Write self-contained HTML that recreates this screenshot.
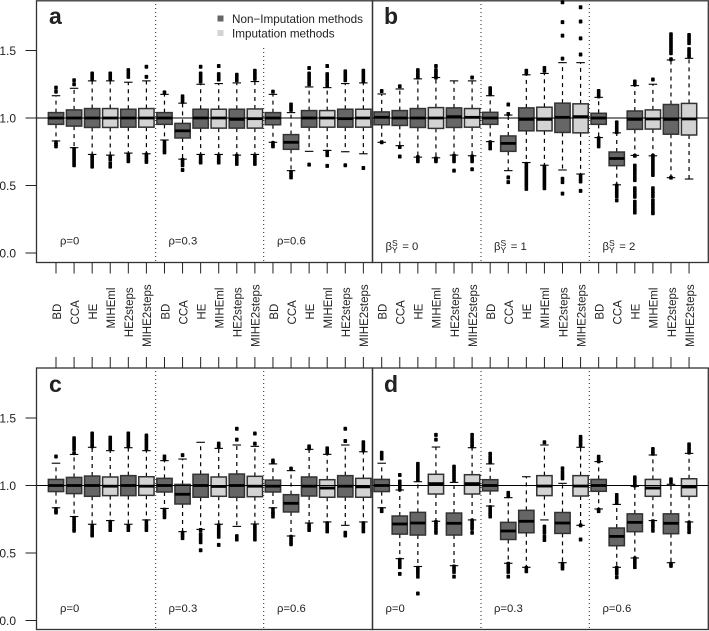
<!DOCTYPE html>
<html>
<head>
<meta charset="utf-8">
<title>Boxplots of imputation methods</title>
<style>
html,body{margin:0;padding:0;background:#fff;width:709px;height:631px;overflow:hidden}
svg{display:block;position:absolute;left:0;top:0}
text{font-family:"Liberation Sans",Arial,sans-serif;fill:#222}
</style>
</head>
<body>
<svg id="chart" width="709" height="631" viewBox="0 0 709 631" xmlns="http://www.w3.org/2000/svg">
  <g id="marks"></g>

  <g>
    <rect x="217.5" y="15.5" width="6" height="6" fill="#666"/>
    <text x="232" y="23" font-size="11.7" fill="#333">Non−Imputation methods</text>
    <rect x="217.5" y="30" width="6" height="6" fill="#d3d3d3"/>
    <text x="232" y="37.5" font-size="11.7" fill="#333">Imputation methods</text>
  </g>

  <text x="49" y="24" font-size="23" font-weight="bold" fill="#000">a</text>
  <text x="384" y="24" font-size="23" font-weight="bold" fill="#000">b</text>
  <text x="49" y="392" font-size="23" font-weight="bold" fill="#000">c</text>
  <text x="384" y="392" font-size="23" font-weight="bold" fill="#000">d</text>

  <g font-size="11.3" fill="#333">
    <text x="60" y="244.5">ρ=0</text>
    <text x="168.5" y="244.5">ρ=0.3</text>
    <text x="277" y="244.5">ρ=0.6</text>
    <text x="60" y="612">ρ=0</text>
    <text x="168.5" y="612">ρ=0.3</text>
    <text x="277" y="612">ρ=0.6</text>
    <text x="385.5" y="612">ρ=0</text>
    <text x="494" y="612">ρ=0.3</text>
    <text x="602.5" y="612">ρ=0.6</text>
    <text x="385.5" y="250">β<tspan font-size="8.5" dy="-4">S</tspan><tspan font-size="8.5" dx="-5.7" dy="7">Y</tspan><tspan dy="-3" dx="1.5"> = 0</tspan></text>
    <text x="494" y="250">β<tspan font-size="8.5" dy="-4">S</tspan><tspan font-size="8.5" dx="-5.7" dy="7">Y</tspan><tspan dy="-3" dx="1.5"> = 1</tspan></text>
    <text x="602.5" y="250">β<tspan font-size="8.5" dy="-4">S</tspan><tspan font-size="8.5" dx="-5.7" dy="7">Y</tspan><tspan dy="-3" dx="1.5"> = 2</tspan></text>
  </g>
</svg>

<script>
// ---------- shared categories and tick labels ----------
const methods = ["BD","CCA","HE","MIHEml","HE2steps","MIHE2steps"];
const yTickValues = [0, 0.5, 1, 1.5];
const yTickLabels = ["0.0","0.5","1.0","1.5"];

// ---------- panel a ----------
const aQ1  = [.953,.94,.93,.93,.932,.932, .953,.852,.925,.925,.925,.925, .95,.768,.932,.932,.932,.932];
const aMed = [1,1,1,1,1,1, 1,.905,1,1,.99,.995, 1,.82,1,1,.995,1];
const aQ3  = [1.04,1.06,1.07,1.07,1.065,1.07, 1.04,.96,1.065,1.065,1.065,1.067, 1.04,.877,1.055,1.055,1.065,1.065];
const aWLo = [.83,.78,.73,.725,.74,.735, .837,.695,.73,.73,.725,.73, .82,.61,.753,.76,.75,.735];
const aWHi = [1.165,1.22,1.275,1.275,1.265,1.275, 1.175,1.11,1.25,1.255,1.26,1.27, 1.175,1.04,1.23,1.225,1.255,1.26];
const aOutLo = [[.82,.805,.79],[.77,.75,.73,.71,.69,.67,.65],[.72,.7,.68,.66,.64],[.715,.695,.665,.64],[.73,.71,.69,.68],[.73,.71,.69,.675],
  [.825,.8,.78,.76,.745],[.69,.67,.65,.615],[.72,.7,.68,.67],[.72,.7,.68,.67],[.72,.7,.68,.66],[.72,.7,.68,.66],
  [.815,.8,.79],[.6,.58,.56],[.655],[.75,.725,.645],[.65],[.63]];
const aOutHi = [[1.225,1.195],[1.28,1.25],[1.33,1.31,1.29],[1.33,1.31,1.29],[1.355,1.33,1.305],[1.38,1.305],
  [1.19],[1.16,1.14,1.12],[1.38,1.33,1.31,1.29,1.27],[1.385,1.325,1.305,1.285],[1.32,1.3,1.28],[1.35,1.33,1.31,1.29],
  [1.195],[1.1,1.08,1.06],[1.37,1.33,1.31,1.29,1.27,1.25],[1.385,1.325,1.305,1.285,1.26,1.24],[1.345,1.32,1.3,1.28],[1.35,1.33,1.31,1.29,1.27]];

// ---------- panel b ----------
const bQ1  = [.95,.945,.93,.923,.93,.932, .953,.753,.905,.905,.893,.89, .953,.647,.916,.918,.88,.874];
const bMed = [1.005,1,1,1,1.01,1.005, 1,.812,.99,.99,1.005,1.01, 1,.7,.99,.993,.99,.993];
const bQ3  = [1.045,1.055,1.07,1.077,1.075,1.07, 1.042,.867,1.075,1.08,1.11,1.105, 1.035,.748,1.052,1.06,1.1,1.108];
const bWLo = [.82,.795,.71,.705,.725,.72, .825,.61,.67,.65,.615,.585, .855,.505,.723,.72,.558,.548];
const bWHi = [1.178,1.215,1.29,1.3,1.275,1.275, 1.165,1.022,1.32,1.33,1.41,1.41, 1.153,.89,1.24,1.25,1.43,1.442];
const bOutLo = [[.82],[.785,.715],[.71,.69,.68],[.7,.69,.68],[.72,.7,.68,.61],[.715,.7,.68,.62],
  [.82,.8,.775],[.56,.525],[.66,.64,.62,.6,.58,.56,.54,.52,.5,.475],[.64,.62,.6,.58,.56,.54,.52,.5,.48],[.55,.525,.44],[.575,.55,.53,.46],
  [.85,.83,.81,.79],[.5,.48,.46,.44,.42,.39],[.72,.647,.625,.605,.585,.56,.54,.48,.46,.435,.417,.38,.36,.34,.32,.3],[.72,.7,.68,.66,.64,.62,.6,.578,.48,.46,.44,.42,.39,.368,.35,.33,.31,.294],[.558],[]];
const bOutHi = [[1.2],[1.235],[1.355,1.335,1.315,1.3],[1.385,1.355,1.335,1.315,1.3],[],[1.3],
  [1.22,1.2,1.18],[1.1,1.03],[1.35,1.33],[1.37,1.35],[1.44,1.61,1.71,1.857],[1.47,1.59,1.715,1.82],
  [1.2,1.18,1.16],[.968,.95,.93,.91,.895],[1.27,1.25],[1.285],[1.62,1.6,1.58,1.56,1.54,1.52,1.5,1.48,1.435],[1.615,1.595,1.575,1.555,1.51,1.49,1.47,1.455]];

// ---------- panel c ----------
const cQ1  = [.955,.94,.92,.925,.925,.927, .952,.863,.913,.92,.913,.917, .952,.804,.922,.913,.915,.913];
const cMed = [1,1,1,.995,1,.995, 1,.935,1,.993,1,.995, .995,.868,.995,.981,.995,.99];
const cQ3  = [1.045,1.06,1.07,1.063,1.073,1.065, 1.053,1.008,1.083,1.063,1.085,1.068, 1.04,.932,1.063,1.043,1.073,1.053];
const cWLo = [.835,.77,.713,.74,.713,.745, .83,.658,.675,.713,.697,.715, .835,.626,.722,.73,.705,.73];
const cWHi = [1.165,1.23,1.283,1.258,1.28,1.258, 1.184,1.196,1.32,1.275,1.3,1.29, 1.16,1.11,1.268,1.231,1.3,1.25];
const cOutLo = [[.825,.81,.8],[.76,.74,.72,.7,.68,.665],[.7,.68,.66,.64,.63],[.73,.71,.69,.67],[.7,.69,.67],[.735,.71,.69,.67],
  [.82,.8,.785,.765],[.65,.63,.61],[.67,.64,.62,.6,.58,.52],[.705,.68,.66,.64,.62,.56],[.625,.6],[.7,.68,.66,.64,.62,.6],
  [.825,.8,.79,.77],[.62,.6,.58,.565],[.71,.69,.67],[.72,.7,.68,.66],[.65,.63],[.72,.7,.68,.66]];
const cOutHi = [[1.215],[1.35,1.33,1.31,1.29,1.27,1.24],[1.385,1.365,1.345,1.325,1.305,1.29],[1.355,1.335,1.315,1.295,1.275],[1.385,1.365,1.345,1.325,1.305,1.29],[1.37,1.35,1.33,1.31,1.29,1.27],
  [1.215,1.195],[1.225],[],[1.31,1.29],[1.42,1.34],[1.385,1.31],
  [1.185,1.17],[1.125],[1.29,1.275],[1.275,1.26,1.24],[1.42,1.33],[1.32,1.3,1.28,1.26]];

// ---------- panel d ----------
const dQ1  = [.955,.64,.633,.937,.633,.937, .96,.6,.65,.925,.645,.922, .957,.554,.658,.92,.643,.92];
const dMed = [1,.715,.722,1.014,.72,1.014, 1,.663,.735,.996,.722,.996, 1,.623,.727,.981,.72,.989];
const dQ3  = [1.045,.774,.801,1.083,.796,1.08, 1.043,.727,.816,1.073,.8,1.073, 1.045,.685,.79,1.045,.79,1.05];
const dWLo = [.835,.458,.4,.735,.406,.745, .848,.424,.394,.745,.428,.705, .826,.394,.463,.74,.428,.73];
const dWHi = [1.165,.967,1.028,1.285,1.023,1.28, 1.16,.91,1.065,1.3,1.016,1.283, 1.177,.86,.994,1.226,1.009,1.238];
const dOutLo = [[.825,.81],[.45,.43,.41,.395,.345],[.39,.37,.35,.325,.2],[.73,.71,.69,.67,.65],[.4,.38,.36,.325],[.74,.72,.7,.68,.65],
  [.84,.82,.8,.785,.77],[.42,.4,.38,.36,.325],[.39,.365],[.695,.67,.65,.62,.596],[.42,.4,.385],[.705,.6],
  [.82,.81],[.39,.37,.35,.32],[.46,.44,.42,.395],[.735,.71,.69,.665],[.42,.405],[.725,.7,.68,.655]];
const dOutHi = [[1.243,1.22,1.2],[1.078,1.03,1.01,.99,.97],[1.16,1.14,1.12,1.1,1.08,1.06,1.04],[1.375,1.34],[1.14,1.12,1.1,1.08,1.06,1.04],[1.375,1.35,1.33,1.31,1.29],
  [1.235,1.21,1.19,1.17],[.945,.925],[],[1.32],[1.127,1.1,1.075,1.053],[1.36,1.34,1.32,1.3],
  [1.213,1.195,1.18],[.93,.91,.89,.87],[1.06,1.04,1.02,1],[1.27,1.25,1.235],[1.045,1.025],[1.305,1.285,1.265,1.245]];

// ---------- axis functions ----------
const BOX_W = 15.3, CAP_W = 8.5, STEP = 18.08;
function makeX(firstTick){ return function(i){ return firstTick + STEP * i; }; }
function makeY(zeroPx){ return function(v){ return zeroPx - 135 * v; }; }

const NS = "http://www.w3.org/2000/svg";
const root = document.getElementById("marks");
function el(tag, attrs, parent){
  const n = document.createElementNS(NS, tag);
  for (const k in attrs) n.setAttribute(k, attrs[k]);
  (parent || root).appendChild(n);
  return n;
}

function drawBoxes(g, x, y, q1, med, q3, wLo, wHi, outLo, outHi){
  for (let i = 0; i < q1.length; i++){
    const m = i % 6;
    const cx = x(i);
    const light = m === 3 || m === 5;
    const box = el("g", {}, g);
    
    
    el("line", {x1:cx, x2:cx, y1:y(q3[i]), y2:y(wHi[i]), stroke:"#000", "stroke-width":1.2, "stroke-dasharray":"4 4"}, box);
    el("line", {x1:cx, x2:cx, y1:y(q1[i]), y2:y(wLo[i]), stroke:"#000", "stroke-width":1.2, "stroke-dasharray":"4 4"}, box);
    el("line", {x1:cx-CAP_W/2, x2:cx+CAP_W/2, y1:y(wHi[i]), y2:y(wHi[i]), stroke:"#000", "stroke-width":1.1}, box);
    el("line", {x1:cx-CAP_W/2, x2:cx+CAP_W/2, y1:y(wLo[i]), y2:y(wLo[i]), stroke:"#000", "stroke-width":1.1}, box);
    outLo[i].concat(outHi[i]).forEach(function(v){
      el("rect", {x:cx-1.8, y:y(v)-2, width:3.6, height:4, rx:.8, fill:"#000"}, box);
    });
    el("rect", {x:cx-BOX_W/2, y:y(q3[i]), width:BOX_W, height:y(q1[i])-y(q3[i]), fill:light?"#d3d3d3":"#666", stroke:"#333", "stroke-width":1.5}, box);
    el("line", {x1:cx-BOX_W/2, x2:cx+BOX_W/2, y1:y(med[i]), y2:y(med[i]), stroke:"#000", "stroke-width":2.8}, box);
  }
}

function drawPanel(name, left, right, top, bottom, firstTick, zeroPx, seps, sepTops, showY, data){
  const g = el("g", {});
  
  
  const x = makeX(firstTick), y = makeY(zeroPx);
  el("rect", {x:left, y:top, width:right-left, height:bottom-top, fill:"none", stroke:"#333", "stroke-width":1.3}, g);
  seps.forEach(function(sx, k){
    const sep = el("line", {x1:sx, x2:sx, y1:sepTops[k], y2:bottom, stroke:"#222", "stroke-width":1, "stroke-dasharray":"1 3"}, g);
    
    
  });
  drawBoxes(g, x, y, data[0], data[1], data[2], data[3], data[4], data[5], data[6]);
  const ref = el("line", {x1:left, x2:right, y1:y(1), y2:y(1), stroke:"#000", "stroke-width":1.1}, g);
  
  
  if (showY){
    yTickValues.forEach(function(v, k){
      const t = el("line", {x1:left-11, x2:left, y1:y(v), y2:y(v), stroke:"#222", "stroke-width":1}, g);
      
      
      const lab = el("text", {x:16, y:y(v)+4.5, "text-anchor":"end", "font-size":12}, g);
      
      
      lab.textContent = yTickLabels[k];
    });
  }
  // small mark on the panel divider at the reference level
  if (!showY){
    el("rect", {x:left-2.5, y:y(1)-6.5, width:2.5, height:13, fill:"#444"}, g);
  }
  // x ticks and method labels
  for (let i = 0; i < 18; i++){
    const cx = x(i);
    const up = top < 100;
    const t = el("line", {x1:cx, x2:cx, y1:up?bottom:top, y2:up?bottom+11:top-11, stroke:"#222", "stroke-width":1}, g);
    
    
    if (up){
      const m = methods[i % 6];
      const centres = {BD:311.7, CCA:312.3, HE:311.7, MIHEml:308, HE2steps:312.3, MIHE2steps:315.7};
      const lab = el("text", {x:0, y:0, "text-anchor":"middle", "font-size":11.5,
        transform:"translate(" + (cx+4.8) + "," + centres[m] + ") rotate(-90)"}, g);
      
      
      lab.textContent = m;
    }
  }
}

drawPanel("a", 36.5, 372.5, .8, 262.5, 56, 253, [155.7,263.7], [4,48], true,
  [aQ1,aMed,aQ3,aWLo,aWHi,aOutLo,aOutHi]);
drawPanel("b", 372.5, 708.3, .8, 262.5, 381.7, 253, [481,589.3], [4,4], false,
  [bQ1,bMed,bQ3,bWLo,bWHi,bOutLo,bOutHi]);
drawPanel("c", 36.5, 372.5, 368, 629.5, 56, 620.5, [155.7,263.7], [371,371], true,
  [cQ1,cMed,cQ3,cWLo,cWHi,cOutLo,cOutHi]);
drawPanel("d", 372.5, 708.3, 368, 629.5, 381.7, 620.5, [481,589.3], [371,371], false,
  [dQ1,dMed,dQ3,dWLo,dWHi,dOutLo,dOutHi]);
</script>
</body>
</html>
